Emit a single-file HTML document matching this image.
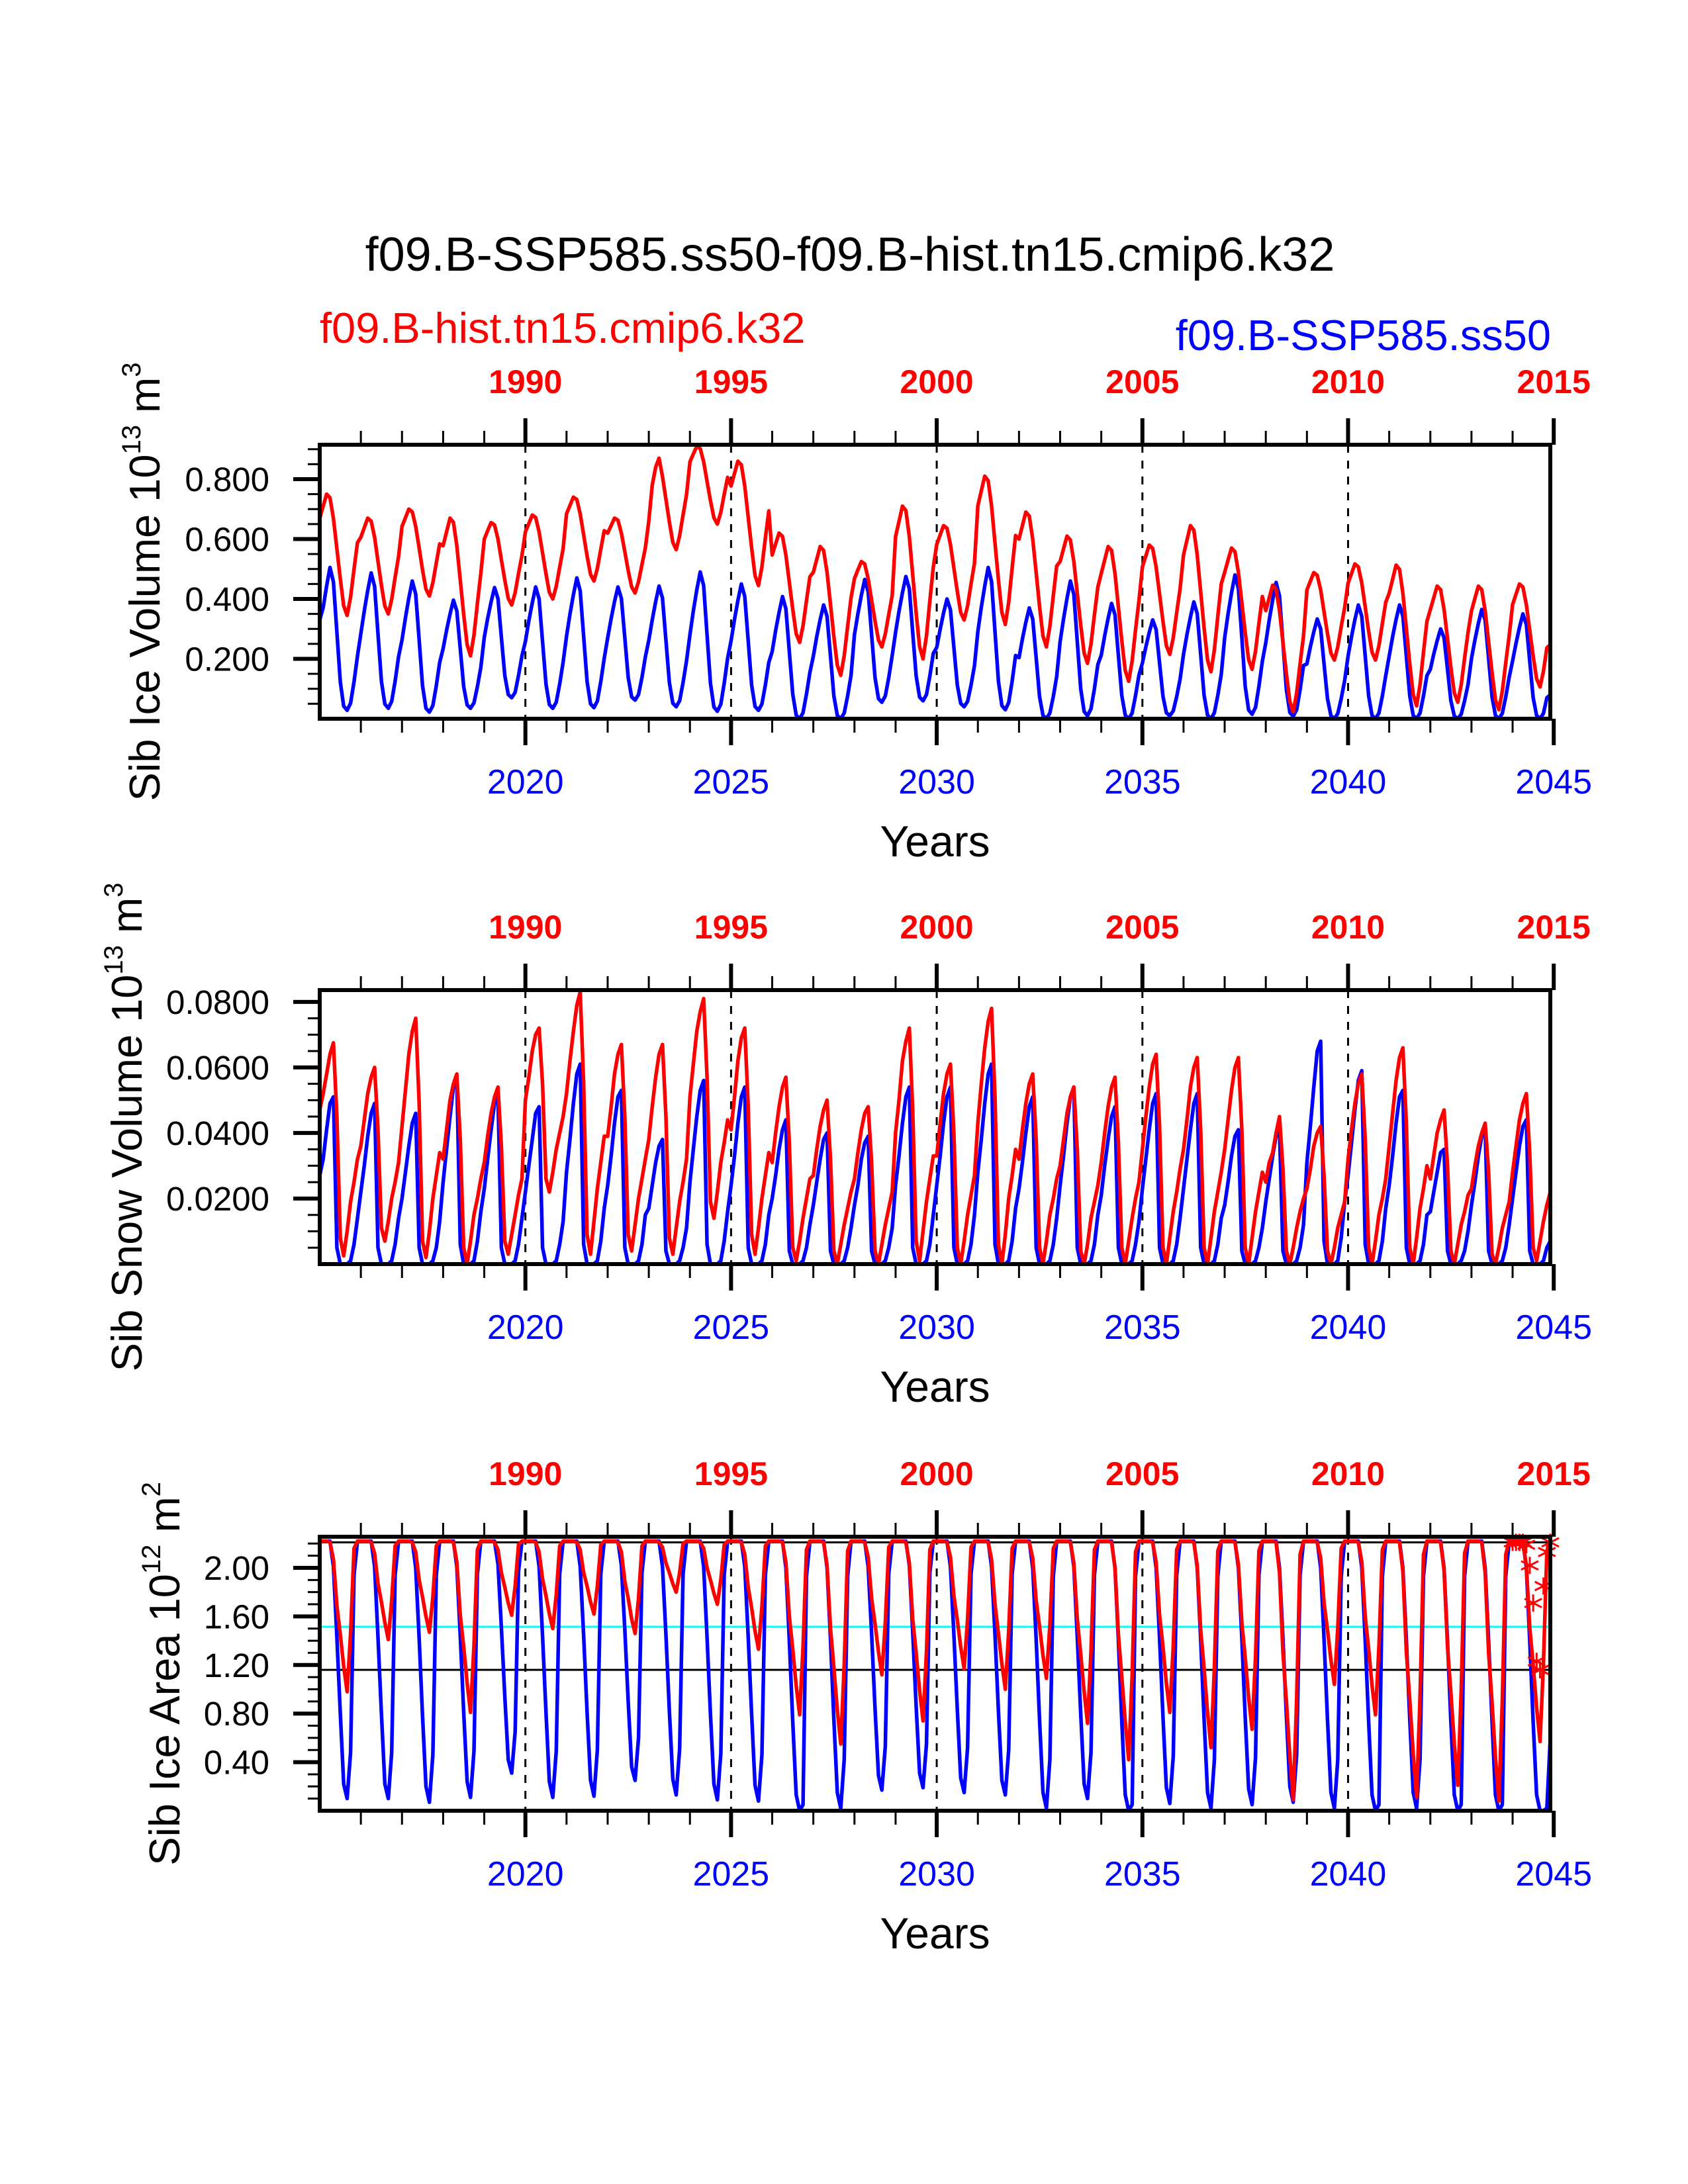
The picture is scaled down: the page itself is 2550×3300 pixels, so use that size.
<!DOCTYPE html>
<html><head><meta charset="utf-8"><title>Sib ice charts</title>
<style>html,body{margin:0;padding:0;background:#fff;}svg{display:block;font-family:"Liberation Sans",Arial,sans-serif;}</style>
</head><body>
<svg id="chart" xmlns="http://www.w3.org/2000/svg" width="2550" height="3300" viewBox="0 0 2550 3300">
<rect x="0" y="0" width="2550" height="3300" fill="#fff"/>
<text x="1284" y="409" font-size="72" text-anchor="middle" fill="#000">f09.B-SSP585.ss50-f09.B-hist.tn15.cmip6.k32</text>
<text x="483" y="518" font-size="65" fill="#ff0000">f09.B-hist.tn15.cmip6.k32</text>
<text x="2343" y="529" font-size="65" text-anchor="end" fill="#0000ff">f09.B-SSP585.ss50</text>
</svg>
<script>
// ---------- data (monthly, Jan 2015 .. Dec 2044) ----------
const bottomYears = [2020,2025,2030,2035,2040,2045];
const topYearLabels = ["1990","1995","2000","2005","2010","2015"];
const iceTicks = ["0.200","0.400","0.600","0.800"];
const snowTicks = ["0.0200","0.0400","0.0600","0.0800"];
const areaTicks = ["0.40","0.80","1.20","1.60","2.00"];

const iceRed = [
.669,.71,.75,.738,.669,.568,.467,.377,.345,.406,.499,.588,
.606,.638,.67,.66,.606,.526,.446,.376,.35,.398,.472,.542,
.642,.671,.70,.691,.642,.57,.497,.433,.41,.454,.52,.584,
.578,.624,.67,.656,.578,.463,.348,.247,.21,.279,.385,.486,
.60,.628,.655,.647,.60,.531,.463,.402,.38,.421,.485,.545,
.624,.652,.68,.672,.624,.554,.484,.422,.40,.442,.506,.568,
.684,.712,.74,.732,.684,.614,.544,.482,.46,.502,.566,.628,
.62,.645,.67,.663,.62,.558,.495,.44,.42,.458,.515,.57,
.66,.78,.84,.87,.809,.733,.657,.589,.565,.611,.681,.748,
.858,.884,.91,.902,.858,.793,.728,.671,.65,.689,.749,.806,
.777,.819,.86,.848,.777,.673,.57,.478,.445,.507,.603,.694,
.547,.584,.62,.609,.547,.456,.365,.284,.255,.31,.394,.474,
.489,.532,.575,.562,.489,.382,.274,.179,.145,.21,.308,.403,
.468,.497,.525,.517,.468,.397,.326,.263,.24,.283,.348,.411,
.608,.659,.71,.695,.608,.481,.353,.241,.20,.277,.394,.506,
.582,.614,.645,.636,.582,.503,.425,.355,.33,.377,.45,.519,
.711,.761,.81,.795,.711,.587,.464,.355,.315,.389,.503,.612,
.60,.645,.69,.677,.60,.488,.375,.276,.24,.308,.411,.51,
.525,.568,.61,.597,.525,.419,.313,.219,.185,.249,.347,.44,
.485,.53,.575,.562,.485,.373,.26,.161,.125,.193,.296,.395,
.507,.544,.58,.569,.507,.416,.325,.244,.215,.27,.354,.434,
.547,.596,.645,.63,.547,.425,.303,.196,.157,.23,.342,.45,
.489,.53,.57,.558,.489,.388,.287,.197,.165,.226,.319,.408,
.361,.404,.446,.433,.361,.256,.15,.057,.023,.086,.184,.277,
.43,.459,.488,.479,.43,.357,.284,.219,.196,.24,.307,.371,
.453,.485,.517,.507,.453,.373,.292,.222,.196,.244,.318,.389,
.419,.466,.513,.499,.419,.302,.184,.081,.043,.114,.222,.325,
.365,.404,.443,.431,.365,.268,.171,.086,.055,.113,.202,.288,
.36,.402,.443,.431,.36,.257,.154,.063,.03,.092,.187,.278,
.381,.416,.45,.44,.381,.295,.209,.134,.106,.158,.237,.247];

const iceBlue = [
.33,.371,.443,.505,.457,.29,.123,.042,.028,.052,.123,.209,
.284,.36,.428,.487,.442,.284,.125,.049,.035,.058,.125,.207,
.263,.337,.403,.46,.416,.263,.11,.035,.022,.044,.11,.188,
.234,.295,.349,.396,.36,.234,.107,.046,.035,.053,.107,.172,
.272,.335,.39,.438,.401,.272,.144,.081,.07,.088,.144,.21,
.258,.327,.387,.44,.40,.258,.116,.047,.035,.055,.116,.189,
.275,.349,.414,.47,.427,.275,.124,.05,.037,.059,.124,.202,
.27,.334,.391,.44,.402,.27,.138,.073,.062,.081,.138,.206,
.262,.33,.391,.443,.403,.262,.121,.052,.04,.06,.121,.193,
.281,.36,.43,.49,.444,.281,.118,.039,.025,.048,.118,.202,
.26,.332,.395,.45,.408,.26,.112,.041,.028,.049,.112,.188,
.224,.294,.355,.408,.367,.224,.082,.012,0,.02,.082,.155,
.209,.274,.331,.38,.342,.209,.076,.011,0,.019,.076,.144,
.281,.35,.412,.465,.424,.281,.137,.067,.055,.076,.137,.211,
.288,.359,.421,.475,.434,.288,.143,.072,.06,.081,.143,.218,
.238,.299,.353,.40,.364,.238,.112,.051,.04,.058,.112,.177,
.291,.372,.443,.505,.458,.291,.125,.044,.03,.054,.125,.211,
.204,.266,.322,.37,.333,.204,.074,.011,0,.019,.074,.141,
.258,.334,.402,.46,.415,.258,.10,.024,.01,.033,.10,.181,
.212,.277,.335,.385,.347,.212,.077,.012,0,.019,.077,.146,
.186,.24,.288,.33,.298,.186,.074,.02,.01,.026,.074,.132,
.215,.281,.339,.39,.351,.215,.078,.012,0,.02,.078,.148,
.271,.35,.42,.48,.434,.271,.108,.029,.015,.038,.108,.192,
.254,.33,.397,.455,.41,.254,.097,.021,.008,.03,.097,.178,
.183,.24,.29,.333,.30,.183,.067,.01,0,.017,.067,.127,
.209,.274,.331,.38,.342,.209,.076,.011,0,.019,.076,.144,
.209,.274,.331,.38,.342,.209,.076,.011,0,.019,.076,.144,
.165,.216,.261,.30,.27,.165,.06,.009,0,.015,.06,.114,
.201,.263,.318,.365,.329,.201,.073,.011,0,.018,.073,.139,
.193,.252,.305,.35,.315,.193,.07,.011,0,.018,.07,.08];

const snowRed = [
.047,.052,.058,.064,.0675,.045,.008,.0025,.010,.019,.025,.032,
.036,.044,.052,.057,.06,.041,.011,.007,.013,.020,.025,.031,
.042,.053,.064,.071,.075,.049,.007,.002,.010,.020,.027,.034,
.032,.041,.050,.055,.058,.038,.005,0,.007,.015,.020,.026,
.031,.039,.046,.051,.054,.036,.007,.003,.009,.015,.021,.026,
.050,.057,.065,.070,.072,.055,.026,.022,.028,.035,.040,.045,
.052,.062,.071,.079,.083,.055,.009,.003,.013,.023,.031,.039,
.039,.048,.058,.064,.067,.045,.009,.004,.012,.020,.026,.032,
.038,.048,.057,.064,.067,.045,.008,.003,.011,.019,.025,.032,
.051,.061,.071,.077,.081,.057,.019,.014,.022,.031,.037,.044,
.041,.051,.062,.069,.072,.048,.009,.003,.011,.020,.027,.034,
.031,.040,.048,.054,.057,.037,.005,.001,.007,.014,.020,.026,
.027,.035,.042,.047,.050,.032,.004,0,.006,.012,.017,.022,
.026,.034,.041,.046,.048,.031,.004,0,.006,.012,.017,.022,
.040,.050,.062,.068,.072,.047,.007,.001,.010,.019,.026,.033,
.033,.043,.052,.058,.061,.040,.005,0,.007,.015,.021,.027,
.043,.055,.066,.074,.078,.051,.006,0,.009,.020,.027,.035,
.032,.041,.049,.055,.058,.038,.005,0,.007,.015,.020,.026,
.030,.038,.046,.051,.054,.035,.004,0,.006,.014,.019,.024,
.031,.040,.048,.054,.057,.037,.005,0,.007,.014,.020,.025,
.035,.045,.054,.061,.064,.042,.005,0,.008,.016,.022,.029,
.035,.044,.054,.060,.063,.041,.005,0,.008,.016,.022,.028,
.035,.044,.053,.060,.063,.041,.005,0,.008,.016,.022,.028,
.025,.031,.034,.040,.045,.029,.004,0,.005,.011,.016,.020,
.023,.029,.036,.040,.042,.027,.004,0,.005,.011,.015,.019,
.032,.041,.049,.055,.058,.038,.005,0,.007,.015,.020,.026,
.036,.046,.056,.063,.066,.043,.005,0,.008,.017,.023,.030,
.026,.033,.040,.044,.047,.030,.004,0,.006,.012,.016,.021,
.023,.030,.036,.040,.043,.028,.003,0,.005,.011,.015,.019,
.028,.036,.044,.049,.052,.034,.005,.001,.007,.013,.018,.022];

const snowBlue = [
.027,.032,.041,.049,.051,.005,0,0,0,.001,.006,.014,
.022,.030,.039,.046,.049,.005,0,0,0,.001,.006,.014,
.020,.028,.036,.043,.046,.005,0,0,0,.001,.005,.013,
.025,.035,.045,.054,.057,.006,0,0,0,.001,.007,.016,
.023,.032,.041,.049,.051,.005,0,0,0,.001,.006,.014,
.022,.030,.038,.046,.048,.005,0,0,0,.001,.006,.013,
.028,.038,.049,.058,.061,.006,0,0,0,.001,.007,.017,
.024,.033,.043,.051,.053,.005,0,0,0,.001,.006,.015,
.017,.024,.031,.036,.038,.004,0,0,0,.001,.005,.011,
.025,.035,.045,.053,.056,.006,0,0,0,.001,.007,.016,
.024,.033,.043,.051,.054,.005,0,0,0,.001,.006,.015,
.020,.027,.035,.041,.044,.004,0,0,0,.001,.005,.012,
.018,.025,.032,.038,.040,.004,0,0,0,.001,.005,.011,
.018,.024,.032,.037,.039,.004,0,0,0,.001,.005,.011,
.024,.033,.043,.051,.054,.005,0,0,0,.001,.006,.015,
.024,.033,.043,.051,.054,.005,0,0,0,.001,.006,.015,
.028,.038,.049,.058,.061,.006,0,0,0,.001,.007,.017,
.023,.031,.040,.048,.051,.005,0,0,0,.001,.006,.014,
.024,.033,.043,.051,.054,.005,0,0,0,.001,.006,.015,
.021,.030,.038,.045,.048,.005,0,0,0,.001,.006,.013,
.023,.032,.041,.049,.052,.005,0,0,0,.001,.006,.014,
.023,.032,.041,.049,.052,.005,0,0,0,.001,.006,.014,
.018,.025,.033,.039,.041,.004,0,0,0,.001,.005,.011,
.019,.026,.033,.039,.041,.004,0,0,0,.001,.005,.012,
.031,.042,.054,.065,.068,.007,0,0,0,.001,.008,.019,
.027,.037,.047,.056,.059,.006,0,0,0,.001,.007,.017,
.024,.033,.043,.051,.053,.005,0,0,0,.001,.006,.015,
.016,.022,.028,.034,.035,.004,0,0,0,.001,.004,.010,
.018,.025,.033,.039,.041,.004,0,0,0,.001,.005,.012,
.020,.028,.036,.042,.044,.004,0,0,0,.001,.005,.007];

const areaRed = [
2.22,2.22,2.22,2.21,2.07,1.69,1.45,1.19,.98,1.46,2.16,2.22,
2.22,2.22,2.22,2.21,2.12,1.87,1.72,1.55,1.41,1.73,2.18,2.22,
2.22,2.22,2.22,2.21,2.13,1.90,1.76,1.60,1.47,1.76,2.18,2.22,
2.22,2.22,2.22,2.21,2.05,1.61,1.35,1.05,.81,1.36,2.15,2.22,
2.22,2.22,2.22,2.21,2.15,1.96,1.84,1.71,1.61,1.85,2.19,2.22,
2.22,2.22,2.22,2.21,2.13,1.91,1.77,1.62,1.50,1.78,2.18,2.22,
2.22,2.22,2.22,2.21,2.15,1.96,1.85,1.72,1.62,1.85,2.19,2.22,
2.22,2.22,2.22,2.21,2.13,1.89,1.75,1.58,1.46,1.75,2.18,2.22,
2.22,2.22,2.22,2.21,2.17,2.04,1.96,1.87,1.80,1.96,2.20,2.22,
2.22,2.22,2.22,2.21,2.16,2.00,1.90,1.79,1.70,1.90,2.19,2.22,
2.22,2.22,2.22,2.21,2.11,1.84,1.67,1.48,1.33,1.68,2.18,2.22,
2.22,2.22,2.22,2.21,2.05,1.60,1.33,1.03,.79,1.35,2.15,2.22,
2.22,2.22,2.22,2.21,2.02,1.50,1.18,.83,.55,1.20,2.14,2.22,
2.22,2.22,2.22,2.21,2.09,1.75,1.54,1.31,1.12,1.55,2.17,2.22,
2.22,2.22,2.22,2.21,2.04,1.58,1.30,.99,.74,1.31,2.15,2.22,
2.22,2.22,2.22,2.21,2.09,1.77,1.57,1.35,1.17,1.58,2.17,2.22,
2.22,2.22,2.22,2.21,2.07,1.70,1.46,1.21,1.00,1.48,2.16,2.22,
2.22,2.22,2.22,2.21,2.08,1.73,1.52,1.28,1.09,1.53,2.16,2.22,
2.22,2.22,2.22,2.21,2.04,1.58,1.29,.98,.72,1.31,2.15,2.22,
2.22,2.22,2.22,2.21,2.00,1.45,1.10,.73,.42,1.12,2.13,2.22,
2.22,2.22,2.22,2.21,2.05,1.61,1.35,1.05,.81,1.36,2.15,2.22,
2.22,2.22,2.22,2.21,2.02,1.49,1.17,.81,.52,1.18,2.14,2.22,
2.22,2.22,2.22,2.21,2.03,1.55,1.26,.93,.67,1.27,2.14,2.22,
2.22,2.22,2.22,2.21,1.96,1.30,.90,.45,.09,.92,2.11,2.22,
2.22,2.22,2.22,2.21,2.08,1.71,1.49,1.24,1.04,1.50,2.16,2.22,
2.22,2.22,2.22,2.21,2.05,1.60,1.33,1.03,.79,1.35,2.15,2.22,
2.22,2.22,2.22,2.21,1.97,1.31,.91,.47,.11,.94,2.11,2.22,
2.22,2.22,2.22,2.21,1.98,1.35,.97,.55,.21,.99,2.12,2.22,
2.22,2.22,2.22,2.21,1.96,1.30,.89,.44,.08,.91,2.11,2.22,
2.22,2.22,2.22,2.21,2.02,1.51,1.20,.85,.57,1.21,2.14,2.22];

const areaBlue = [
2.22,2.22,2.22,2.22,2.01,1.43,.80,.22,.10,.48,1.94,2.22,
2.22,2.22,2.22,2.22,2.01,1.43,.80,.22,.10,.48,1.94,2.22,
2.22,2.22,2.22,2.22,2.00,1.42,.78,.20,.07,.46,1.94,2.22,
2.22,2.22,2.22,2.22,2.01,1.44,.81,.24,.11,.49,1.95,2.22,
2.22,2.22,2.22,2.22,2.03,1.51,.94,.42,.31,.65,1.97,2.22,
2.22,2.22,2.22,2.22,2.01,1.44,.81,.24,.11,.49,1.95,2.22,
2.22,2.22,2.22,2.22,2.01,1.44,.81,.25,.12,.50,1.95,2.22,
2.22,2.22,2.22,2.22,2.02,1.49,.90,.36,.25,.60,1.96,2.22,
2.22,2.22,2.22,2.22,2.01,1.45,.82,.26,.13,.51,1.95,2.22,
2.22,2.22,2.22,2.22,2.01,1.43,.79,.22,.09,.47,1.94,2.22,
2.22,2.22,2.22,2.22,2.01,1.43,.79,.21,.08,.46,1.94,2.22,
2.22,2.22,2.22,2.22,2.00,1.40,.73,.13,0,.05,1.93,2.22,
2.22,2.22,2.22,2.22,2.00,1.41,.75,.15,.02,.42,1.93,2.22,
2.22,2.22,2.22,2.22,2.01,1.46,.84,.29,.17,.53,1.95,2.22,
2.22,2.22,2.22,2.22,2.02,1.47,.86,.31,.19,.55,1.96,2.22,
2.22,2.22,2.22,2.22,2.01,1.45,.83,.27,.15,.52,1.95,2.22,
2.22,2.22,2.22,2.22,2.01,1.45,.82,.25,.13,.50,1.95,2.22,
2.22,2.22,2.22,2.22,2.00,1.41,.75,.15,.02,.42,1.93,2.22,
2.22,2.22,2.22,2.22,2.01,1.43,.80,.22,.10,.48,1.94,2.22,
2.22,2.22,2.22,2.22,2.00,1.40,.73,.13,0,.05,1.93,2.22,
2.22,2.22,2.22,2.22,2.00,1.42,.77,.19,.06,.45,1.94,2.22,
2.22,2.22,2.22,2.22,2.00,1.41,.75,.15,.02,.42,1.93,2.22,
2.22,2.22,2.22,2.22,2.00,1.42,.77,.18,.05,.44,1.94,2.22,
2.22,2.22,2.22,2.22,2.00,1.42,.78,.20,.07,.46,1.94,2.22,
2.22,2.22,2.22,2.22,2.00,1.41,.75,.15,.02,.42,1.93,2.22,
2.22,2.22,2.22,2.22,2.00,1.40,.73,.13,0,.05,1.93,2.22,
2.22,2.22,2.22,2.22,2.00,1.41,.75,.15,.02,.42,1.93,2.22,
2.22,2.22,2.22,2.22,2.00,1.40,.73,.13,0,.05,1.93,2.22,
2.22,2.22,2.22,2.22,2.00,1.40,.73,.13,0,.05,1.93,2.22,
2.22,2.22,2.22,2.22,2.00,1.40,.73,.13,0,0,.02,.60];

const markerStartMonth = 348;
const areaMarkers = [2.21,2.21,2.21,2.21,2.19,2.02,1.71,1.23,1.16,1.85,2.13,2.21];

// ---------- drawing ----------
const NS = "http://www.w3.org/2000/svg";
const svg = document.getElementById("chart");
const X0 = 483, X1 = 2342, NMONTH = 360, YEAR0 = 2015;
function xMonth(m){ return X0 + m*(X1-X0)/(NMONTH-1); }
function xYear(y){ return X0 + (y-YEAR0)*12*(X1-X0)/(NMONTH-1); }
function mk(tag, attrs, parent){
  const e = document.createElementNS(NS, tag);
  for (const k in attrs) e.setAttribute(k, attrs[k]);
  (parent||svg).appendChild(e);
  return e;
}

const plots = [
  {key:"ice-volume", top:672, vmax:0.915, minorStep:0.05, majorVals:[0.2,0.4,0.6,0.8], labels:iceTicks, red:iceRed, blue:iceBlue,
   title:["Sib Ice Volume 10","13"," m","3"], titleX:241},
  {key:"snow-volume", top:1496, vmax:0.0836, minorStep:0.005, majorVals:[0.02,0.04,0.06,0.08], labels:snowTicks, red:snowRed, blue:snowBlue,
   title:["Sib Snow Volume 10","13"," m","3"], titleX:214},
  {key:"ice-area", top:2322, vmax:2.256, minorStep:0.1, majorVals:[0.4,0.8,1.2,1.6,2.0], labels:areaTicks, red:areaRed, blue:areaBlue,
   title:["Sib Ice Area 10","12"," m","2"], titleX:271}
];
const H = 414;

plots.forEach(function(p, pi){
  const bottom = p.top + H;
  const yS = function(v){ return bottom - v/p.vmax*H; };
  const g = mk("g", {});
  
  

  if (p.key === "ice-area") {
    const l1 = mk("line", {x1:X0, x2:X1, y1:yS(2.21), y2:yS(2.21), stroke:"#000", "stroke-width":3}, g);
    
    
    const l2 = mk("line", {x1:X0, x2:X1, y1:yS(1.16), y2:yS(1.16), stroke:"#000", "stroke-width":3}, g);
    
    
    const l3 = mk("line", {x1:X0, x2:X1, y1:yS(1.515), y2:yS(1.515), stroke:"#00ffff", "stroke-width":3}, g);
    
    
  }

  [2020,2025,2030,2035,2040].forEach(function(yr){
    const d = mk("line", {x1:xYear(yr), x2:xYear(yr), y1:p.top, y2:bottom, stroke:"#000", "stroke-width":3, "stroke-dasharray":"12 12"}, g);
    
    
  });

  function series(arr, color, name){
    let pts = [];
    for (let i=0;i<arr.length;i++) pts.push(xMonth(i).toFixed(1)+","+yS(arr[i]).toFixed(1));
    const pl = mk("polyline", {points:pts.join(" "), fill:"none", stroke:color, "stroke-width":5.5, "stroke-linejoin":"round"}, g);
    
    
  }
  series(p.blue, "#0000ff", p.key + "-ssp585-line");
  series(p.red, "#ff0000", p.key + "-hist-line");

  if (p.key === "ice-area") {
    areaMarkers.forEach(function(v, i){
      const cx = xMonth(markerStartMonth + i), cy = yS(v), r = 13;
      const mg = mk("g", {stroke:"#ff0000", "stroke-width":3}, g);
      
      
      mk("line", {x1:cx-r, x2:cx+r, y1:cy-r*0.5, y2:cy+r*0.5}, mg);
      mk("line", {x1:cx-r, x2:cx+r, y1:cy+r*0.5, y2:cy-r*0.5}, mg);
      mk("line", {x1:cx, x2:cx, y1:cy-r, y2:cy+r}, mg);
    });
  }

  const fr = mk("rect", {x:X0, y:p.top, width:X1-X0, height:H, fill:"none", stroke:"#000", "stroke-width":6}, g);
  
  

  for (let yr=2016; yr<=2045; yr++){
    const major = (yr % 5 === 0);
    const len = major ? 40 : 21, sw = major ? 6 : 3, x = xYear(yr);
    const t1 = mk("line", {x1:x, x2:x, y1:p.top, y2:p.top-len, stroke:"#000", "stroke-width":sw}, g);
    
    
    const t2 = mk("line", {x1:x, x2:x, y1:bottom, y2:bottom+len, stroke:"#000", "stroke-width":sw}, g);
    
    
  }
  bottomYears.forEach(function(yr, i){
    const tb = mk("text", {x:xYear(yr), y:bottom+113, "font-size":52, "text-anchor":"middle", fill:"#0000ff"}, g);
    tb.textContent = String(yr);
    
    
    const tt = mk("text", {x:xYear(yr), y:p.top-78, "font-size":50, "font-weight":"bold", "text-anchor":"middle", fill:"#ff0000"}, g);
    tt.textContent = topYearLabels[i];
    
    
  });

  const nMinor = Math.floor(p.vmax / p.minorStep + 1e-6);
  for (let k=1; k<=nMinor; k++){
    const v = k*p.minorStep, y = yS(v);
    const isMajor = p.majorVals.some(function(m){ return Math.abs(m-v) < p.minorStep/10; });
    const t = mk("line", {x1:X0, x2:X0-(isMajor?40:18), y1:y, y2:y, stroke:"#000", "stroke-width":isMajor?6:3}, g);
    
    
  }
  p.majorVals.forEach(function(v, i){
    const t = mk("text", {x:407, y:yS(v)+18, "font-size":51, "text-anchor":"end", fill:"#000"}, g);
    t.textContent = p.labels[i];
    
    
  });

  const cy = p.top + H/2;
  const yt = mk("text", {x:0, y:0, "font-size":65, "text-anchor":"middle", fill:"#000", transform:"translate("+p.titleX+","+cy+") rotate(-90)"}, g);
  
  
  const s1 = mk("tspan", {}, yt); s1.textContent = p.title[0];
  const s2 = mk("tspan", {"font-size":40, dy:-29}, yt); s2.textContent = p.title[1];
  const s3 = mk("tspan", {dy:29}, yt); s3.textContent = p.title[2];
  const s4 = mk("tspan", {"font-size":40, dy:-29}, yt); s4.textContent = p.title[3];

  const xt = mk("text", {x:(X0+X1)/2, y:bottom+208, "font-size":66, "text-anchor":"middle", fill:"#000"}, g);
  xt.textContent = "Years";
  
  
});
</script>
</body></html>
